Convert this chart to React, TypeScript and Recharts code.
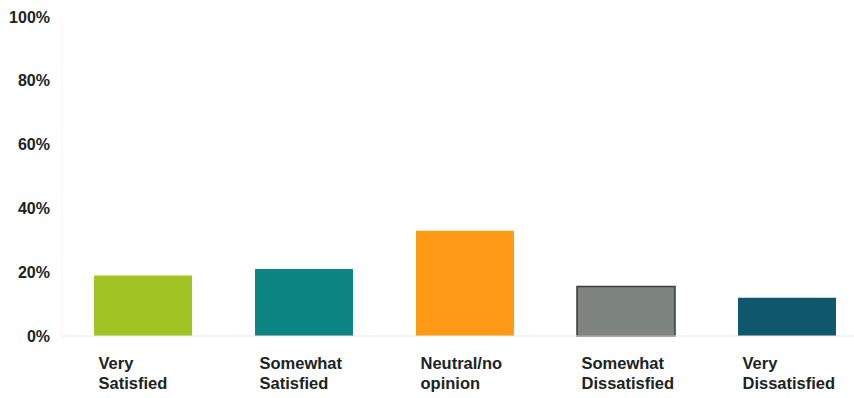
import { BarChart, Bar, XAxis, YAxis, CartesianGrid, Cell } from "recharts";

const CATEGORIES = [
  "Very Satisfied",
  "Somewhat Satisfied",
  "Neutral/no opinion",
  "Somewhat Dissatisfied",
  "Very Dissatisfied",
];
const SHARES = [19, 21, 33, 15.5, 12];
const Y_TICKS = [0, 20, 40, 60, 80, 100];

const BAR_COLORS = ["#a0c424", "#0d8582", "#ff9a16", "#7e8580", "#0f576c"];
const BAR_STROKES = ["none", "none", "none", "#3a3a3a", "none"];

const chartData = CATEGORIES.map((name, i) => ({ name, share: SHARES[i] }));

const TEXT = "#1b2424";

function CategoryTick(props: any) {
  const { x, y, payload } = props;
  const label = String(payload.value);
  const cut = label.indexOf(" ");
  const lines = cut > 0 ? [label.slice(0, cut), label.slice(cut + 1)] : [label];
  return (
    <text
      x={x - 44}
      y={y}
      fill={TEXT}
      fontSize={16.5}
      fontWeight="bold"
      fontFamily="Liberation Sans, Arial, sans-serif"
      textAnchor="start"
    >
      {lines.map((ln, i) => (
        <tspan key={i} x={x - 44} y={y + 25 + i * 20}>
          {ln}
        </tspan>
      ))}
    </text>
  );
}

export default function App() {
  return (
    <div
      style={{
        position: "fixed",
        left: 0,
        top: 0,
        width: 854,
        height: 398,
        overflow: "hidden",
        background: "#fff",
      }}
    >
      <BarChart
        width={867}
        height={398}
        data={chartData}
        margin={{ top: 17, right: 0, left: 0, bottom: 0 }}
      >
        <CartesianGrid horizontal={false} vertical={false} stroke="#f2f2f2" />
        <XAxis
          dataKey="name"
          height={62}
          axisLine={{ stroke: "#e6e6e6" }}
          tickLine={false}
          interval={0}
          tick={<CategoryTick />}
        />
        <YAxis
          width={62}
          domain={[0, 100]}
          ticks={Y_TICKS}
          axisLine={{ stroke: "#f3f3f3" }}
          tickLine={false}
          tickMargin={6}
          tickFormatter={(v) => `${v}%`}
          tick={{
            fill: TEXT,
            fontSize: 16,
            fontWeight: "bold",
            fontFamily: "Liberation Sans, Arial, sans-serif",
          }}
        />
        <Bar dataKey="share" barSize={98} isAnimationActive={false}>
          {chartData.map((d, i) => (
            <Cell
              key={d.name}
              fill={BAR_COLORS[i]}
              stroke={BAR_STROKES[i]}
              strokeWidth={BAR_STROKES[i] === "none" ? 0 : 1.5}
            />
          ))}
        </Bar>
      </BarChart>
    </div>
  );
}
